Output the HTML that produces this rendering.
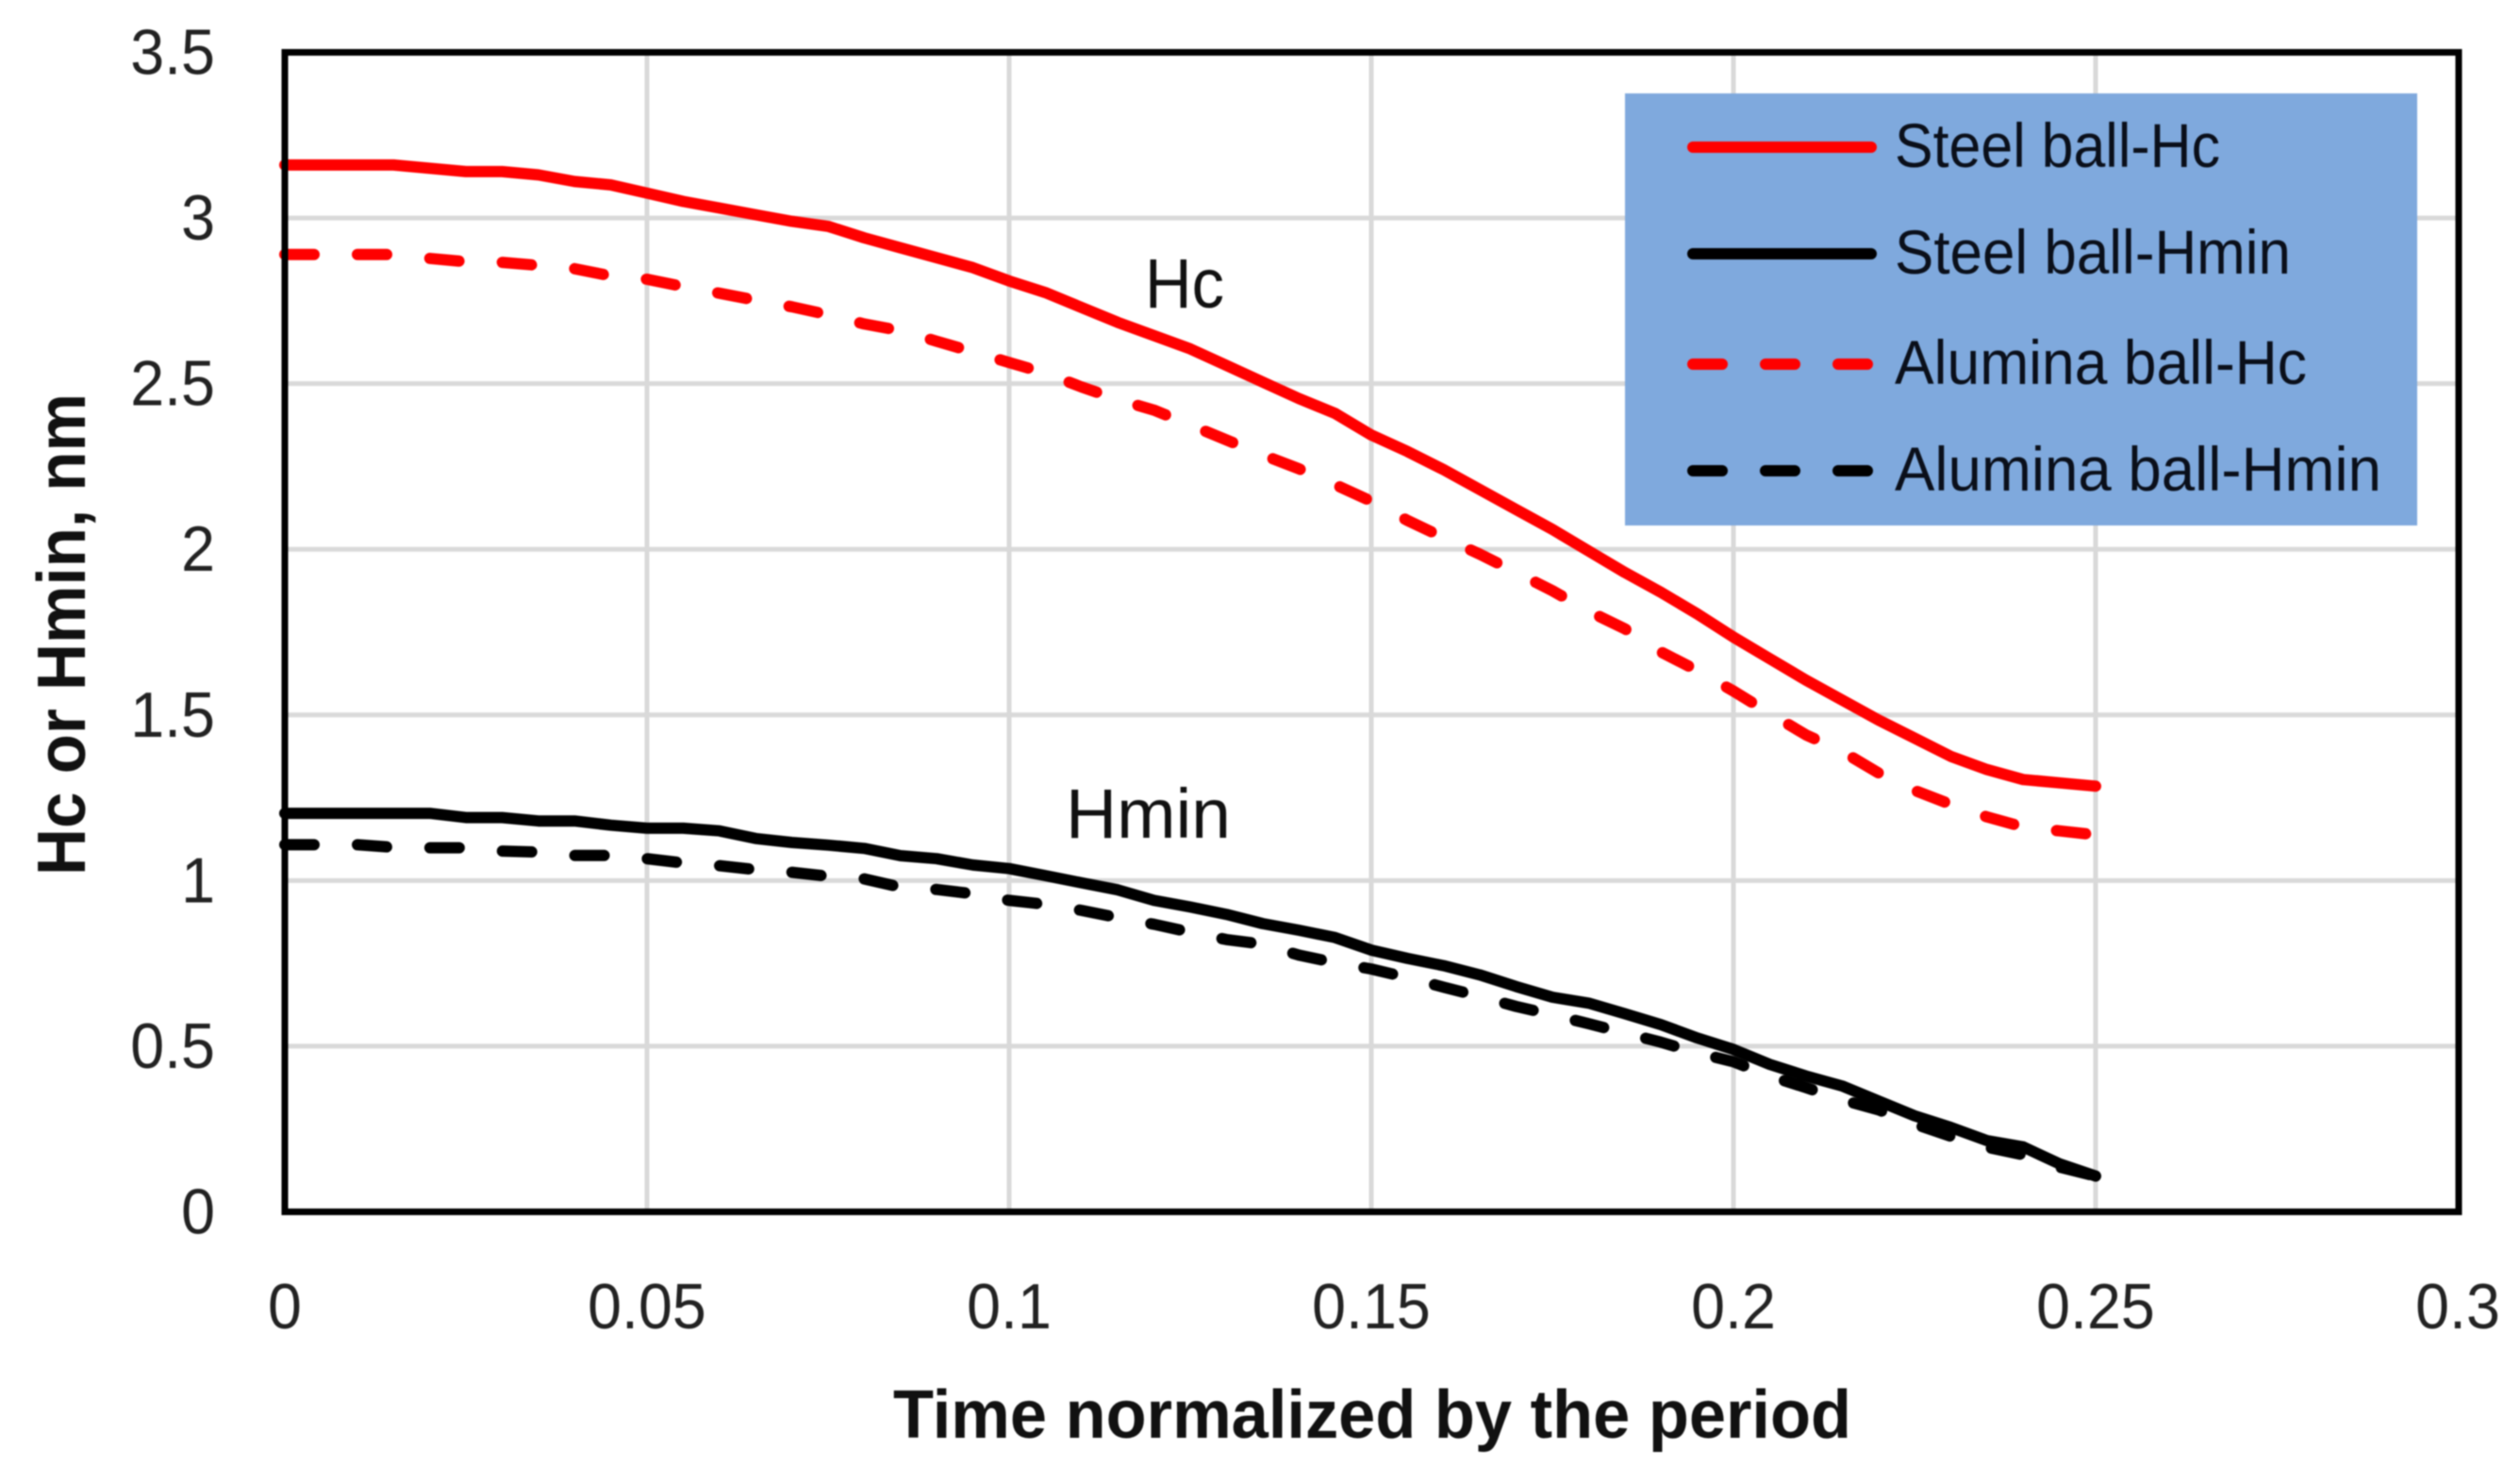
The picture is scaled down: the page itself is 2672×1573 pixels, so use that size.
<!DOCTYPE html>
<html lang="en">
<head>
<meta charset="utf-8">
<title>Hc and Hmin versus normalized time</title>
<style>
  html, body { margin: 0; padding: 0; background: #ffffff; }
  svg { display: block; filter: blur(0.8px); }
  text { font-family: "Liberation Sans", sans-serif; }
</style>
</head>
<body>
<svg id="chart" xmlns="http://www.w3.org/2000/svg" width="2672" height="1573" viewBox="0 0 2672 1573">
  <rect x="0" y="0" width="2672" height="1573" fill="#ffffff"/>
  <g id="grid"></g>
  <g id="series"></g>
  <rect x="302" y="55.5" width="2305" height="1229" fill="none" stroke="#000000" stroke-width="7"/>
  <g id="ticks"></g>

  <text x="947" y="1524" font-size="72" font-weight="700" fill="#111111" textLength="1016" lengthAdjust="spacingAndGlyphs">Time normalized by the period</text>
  <text transform="translate(90 928) rotate(-90)" x="0" y="0" font-size="72" font-weight="700" fill="#111111" textLength="511" lengthAdjust="spacingAndGlyphs">Hc or Hmin, nm</text>

  <text x="1214" y="326" font-size="74" fill="#111111" textLength="84" lengthAdjust="spacingAndGlyphs">Hc</text>
  <text x="1130" y="888" font-size="74" fill="#111111" textLength="175" lengthAdjust="spacingAndGlyphs">Hmin</text>

  <g>
    <rect x="1723" y="99" width="840" height="458" fill="#7fa9dd"/>
    <g>
      <line x1="1795" y1="156" x2="1984" y2="156" stroke="#ff0000" stroke-width="12" stroke-linecap="round"/>
      <text x="2009" y="177" font-size="66" fill="#0a0f1a" textLength="345" lengthAdjust="spacingAndGlyphs">Steel ball-Hc</text>
    </g>
    <g>
      <line x1="1795" y1="269" x2="1984" y2="269" stroke="#000000" stroke-width="12" stroke-linecap="round"/>
      <text x="2009" y="290" font-size="66" fill="#0a0f1a" textLength="420" lengthAdjust="spacingAndGlyphs">Steel ball-Hmin</text>
    </g>
    <g>
      <line x1="1795" y1="386" x2="1981" y2="386" stroke="#ff0000" stroke-width="12" stroke-linecap="round" stroke-dasharray="31 46"/>
      <text x="2009" y="407" font-size="66" fill="#0a0f1a" textLength="437" lengthAdjust="spacingAndGlyphs">Alumina ball-Hc</text>
    </g>
    <g>
      <line x1="1795" y1="499" x2="1981" y2="499" stroke="#000000" stroke-width="12" stroke-linecap="round" stroke-dasharray="31 46"/>
      <text x="2009" y="520" font-size="66" fill="#0a0f1a" textLength="516" lengthAdjust="spacingAndGlyphs">Alumina ball-Hmin</text>
    </g>
  </g>
</svg>

<script>
const times = [
  0, 0.005, 0.01, 0.015, 0.02, 0.025, 0.03, 0.035, 0.04, 0.045,
  0.05, 0.055, 0.06, 0.065, 0.07, 0.075, 0.08, 0.085, 0.09, 0.095,
  0.1, 0.105, 0.11, 0.115, 0.12, 0.125, 0.13, 0.135, 0.14, 0.145,
  0.15, 0.155, 0.16, 0.165, 0.17, 0.175, 0.18, 0.185, 0.19, 0.195,
  0.2, 0.205, 0.21, 0.215, 0.22, 0.225, 0.23, 0.235, 0.24, 0.245,
  0.25
];
const steelHc = [
  3.16, 3.16, 3.16, 3.16, 3.15, 3.14, 3.14, 3.13, 3.11, 3.10,
  3.075, 3.05, 3.03, 3.01, 2.99, 2.975, 2.94, 2.91, 2.88, 2.85,
  2.81, 2.775, 2.73, 2.685, 2.645, 2.605, 2.555, 2.505, 2.455, 2.41,
  2.345, 2.295, 2.24, 2.18, 2.12, 2.06, 1.995, 1.93, 1.87, 1.805,
  1.735, 1.67, 1.605, 1.545, 1.485, 1.43, 1.375, 1.335, 1.305, 1.295,
  1.285
];
const steelHmin = [
  1.203, 1.203, 1.203, 1.203, 1.203, 1.19, 1.19, 1.18, 1.18, 1.167,
  1.158, 1.158, 1.15, 1.127, 1.115, 1.107, 1.097, 1.075, 1.066, 1.047,
  1.036, 1.015, 0.993, 0.972, 0.94, 0.92, 0.898, 0.87, 0.85, 0.828,
  0.79, 0.765, 0.743, 0.715, 0.68, 0.648, 0.63, 0.598, 0.565, 0.525,
  0.49, 0.445, 0.41, 0.38, 0.335, 0.29, 0.255, 0.215, 0.196, 0.145,
  0.108
];
const aluminaHc = [
  2.89, 2.89, 2.89, 2.89, 2.878, 2.868, 2.866, 2.857, 2.847, 2.825,
  2.815, 2.793, 2.773, 2.752, 2.732, 2.708, 2.68, 2.66, 2.628, 2.596,
  2.564, 2.532, 2.49, 2.452, 2.42, 2.375, 2.33, 2.285, 2.243, 2.195,
  2.145, 2.087, 2.035, 1.985, 1.93, 1.875, 1.813, 1.76, 1.69, 1.634,
  1.572, 1.505, 1.44, 1.39, 1.325, 1.272, 1.23, 1.192, 1.162, 1.15,
  1.138
];
const aluminaHmin = [
  1.108, 1.108, 1.108, 1.1, 1.099, 1.099, 1.089, 1.086, 1.076, 1.076,
  1.066, 1.053, 1.045, 1.033, 1.025, 1.013, 1.005, 0.98, 0.973, 0.96,
  0.94, 0.928, 0.91, 0.888, 0.868, 0.844, 0.822, 0.808, 0.775, 0.752,
  0.733, 0.707, 0.678, 0.65, 0.62, 0.595, 0.568, 0.54, 0.512, 0.48,
  0.453, 0.41, 0.375, 0.338, 0.308, 0.265, 0.228, 0.195, 0.172, 0.135,
  0.108
];
const xTickValues = [0, 0.05, 0.1, 0.15, 0.2, 0.25, 0.3];
const xTickLabels = ["0", "0.05", "0.1", "0.15", "0.2", "0.25", "0.3"];
const yTickValues = [0, 0.5, 1, 1.5, 2, 2.5, 3, 3.5];
const yTickLabels = ["0", "0.5", "1", "1.5", "2", "2.5", "3", "3.5"];

const NS = "http://www.w3.org/2000/svg";
const plotLeft = 302, plotRight = 2606, plotTop = 55.5, plotBottom = 1284.5;
const xMax = 0.3, yMax = 3.5;
function xScale(v) { return plotLeft + (v / xMax) * (plotRight - plotLeft); }
function yScale(v) { return plotBottom - (v / yMax) * (plotBottom - plotTop); }

const gridLayer = document.getElementById("grid");
const seriesLayer = document.getElementById("series");
const tickLayer = document.getElementById("ticks");

function narrowLabel(label) {
  label.setAttribute("textLength", (label.getComputedTextLength() * 0.95).toFixed(1));
  label.setAttribute("lengthAdjust", "spacingAndGlyphs");
}

xTickValues.forEach(function (v, i) {
  if (i > 0 && i < xTickValues.length - 1) {
    const line = document.createElementNS(NS, "line");
    
    
    line.setAttribute("x1", xScale(v));
    line.setAttribute("x2", xScale(v));
    line.setAttribute("y1", plotTop);
    line.setAttribute("y2", plotBottom);
    line.setAttribute("stroke", "#d9d9d9");
    line.setAttribute("stroke-width", "5");
    gridLayer.appendChild(line);
  }
  const label = document.createElementNS(NS, "text");
  
  
  label.setAttribute("x", xScale(v));
  label.setAttribute("y", 1408);
  label.setAttribute("font-size", "68");
  label.setAttribute("fill", "#222222");
  label.setAttribute("text-anchor", "middle");
  label.textContent = xTickLabels[i];
  tickLayer.appendChild(label);
  narrowLabel(label);
});

yTickValues.forEach(function (v, i) {
  if (i > 0 && i < yTickValues.length - 1) {
    const line = document.createElementNS(NS, "line");
    
    
    line.setAttribute("x1", plotLeft);
    line.setAttribute("x2", plotRight);
    line.setAttribute("y1", yScale(v));
    line.setAttribute("y2", yScale(v));
    line.setAttribute("stroke", "#d9d9d9");
    line.setAttribute("stroke-width", "5");
    gridLayer.appendChild(line);
  }
  const label = document.createElementNS(NS, "text");
  
  
  label.setAttribute("x", 228);
  label.setAttribute("y", yScale(v) + 23);
  label.setAttribute("font-size", "68");
  label.setAttribute("fill", "#222222");
  label.setAttribute("text-anchor", "end");
  label.textContent = yTickLabels[i];
  tickLayer.appendChild(label);
  narrowLabel(label);
});

function linePoints(values) {
  return values.map(function (v, i) {
    return xScale(times[i]).toFixed(1) + "," + yScale(v).toFixed(1);
  }).join(" ");
}

const lineSteelHc = document.createElementNS(NS, "polyline");


lineSteelHc.setAttribute("points", linePoints(steelHc));
lineSteelHc.setAttribute("fill", "none");
lineSteelHc.setAttribute("stroke", "#ff0000");
lineSteelHc.setAttribute("stroke-width", "12");
lineSteelHc.setAttribute("stroke-linecap", "round");
lineSteelHc.setAttribute("stroke-linejoin", "round");
seriesLayer.appendChild(lineSteelHc);

const lineSteelHmin = document.createElementNS(NS, "polyline");


lineSteelHmin.setAttribute("points", linePoints(steelHmin));
lineSteelHmin.setAttribute("fill", "none");
lineSteelHmin.setAttribute("stroke", "#000000");
lineSteelHmin.setAttribute("stroke-width", "12");
lineSteelHmin.setAttribute("stroke-linecap", "round");
lineSteelHmin.setAttribute("stroke-linejoin", "round");
seriesLayer.appendChild(lineSteelHmin);

const lineAluminaHc = document.createElementNS(NS, "polyline");


lineAluminaHc.setAttribute("points", linePoints(aluminaHc));
lineAluminaHc.setAttribute("fill", "none");
lineAluminaHc.setAttribute("stroke", "#ff0000");
lineAluminaHc.setAttribute("stroke-width", "12");
lineAluminaHc.setAttribute("stroke-linecap", "round");
lineAluminaHc.setAttribute("stroke-linejoin", "round");
lineAluminaHc.setAttribute("stroke-dasharray", "31 46");
seriesLayer.appendChild(lineAluminaHc);

const lineAluminaHmin = document.createElementNS(NS, "polyline");


lineAluminaHmin.setAttribute("points", linePoints(aluminaHmin));
lineAluminaHmin.setAttribute("fill", "none");
lineAluminaHmin.setAttribute("stroke", "#000000");
lineAluminaHmin.setAttribute("stroke-width", "12");
lineAluminaHmin.setAttribute("stroke-linecap", "round");
lineAluminaHmin.setAttribute("stroke-linejoin", "round");
lineAluminaHmin.setAttribute("stroke-dasharray", "31 46");
seriesLayer.appendChild(lineAluminaHmin);
</script>
</body>
</html>
